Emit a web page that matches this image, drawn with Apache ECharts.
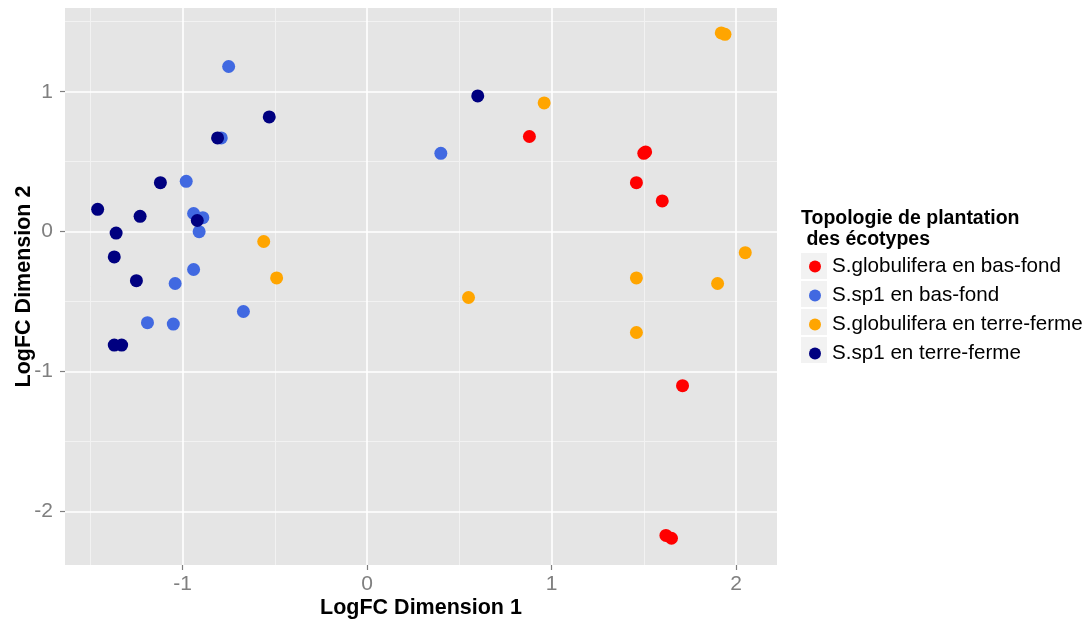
<!DOCTYPE html>
<html>
<head>
<meta charset="utf-8">
<script src="https://cdn.jsdelivr.net/npm/echarts@6/dist/echarts.min.js"></script>
<style>
  html, body { margin: 0; padding: 0; background: #fff; }
  #chart { width: 1092px; height: 621px; }
</style>
</head>
<body>
<div id="chart"></div>
<script>
// axis ranges and ticks
var xRange = [-1.637, 2.222];
var yRange = [-2.381, 1.598];
var xTicks = [-1, 0, 1, 2];
var yTicks = [-2, -1, 0, 1];
var xMinor = [-1.5, -0.5, 0.5, 1.5];
var yMinor = [-1.5, -0.5, 0.5, 1.5];

var seriesNames = ['S.globulifera en bas-fond', 'S.sp1 en bas-fond', 'S.globulifera en terre-ferme', 'S.sp1 en terre-ferme'];
var seriesColors = ['#ff0000', '#4169e1', '#ffa500', '#000080'];

// [LogFC dim 1, LogFC dim 2]
var globBasFond = [[0.88, 0.68], [1.50, 0.56], [1.51, 0.57], [1.46, 0.35], [1.60, 0.22], [1.71, -1.10], [1.62, -2.17], [1.65, -2.19]];
var sp1BasFond = [[-0.75, 1.18], [-0.79, 0.67], [-0.98, 0.36], [-0.94, 0.13], [-0.89, 0.10], [-0.91, 0.00], [-0.94, -0.27], [-1.04, -0.37], [-0.67, -0.57], [-1.19, -0.65], [-1.05, -0.66], [0.40, 0.56]];
var globTerreFerme = [[1.92, 1.42], [1.94, 1.41], [0.96, 0.92], [-0.56, -0.07], [-0.49, -0.33], [2.05, -0.15], [1.46, -0.33], [1.90, -0.37], [0.55, -0.47], [1.46, -0.72]];
var sp1TerreFerme = [[-0.53, 0.82], [-0.81, 0.67], [-1.12, 0.35], [-1.46, 0.16], [-1.23, 0.11], [-0.92, 0.08], [-1.36, -0.01], [-1.37, -0.18], [-1.25, -0.35], [-1.37, -0.81], [-1.33, -0.81], [0.60, 0.97]];

var seriesData = [globBasFond, sp1BasFond, globTerreFerme, sp1TerreFerme];

var FONT = 'Liberation Sans, Arial, sans-serif';
var myChart = echarts.init(document.getElementById('chart'), null, { renderer: 'canvas' });

// grid lines (ggplot style) as markLines
var gridLines = [];
xMinor.forEach(function (v) { gridLines.push({ xAxis: v, lineStyle: { color: '#f2f2f2', width: 1 } }); });
yMinor.forEach(function (v) { gridLines.push({ yAxis: v, lineStyle: { color: '#f2f2f2', width: 1 } }); });
xTicks.forEach(function (v) { gridLines.push({ xAxis: v, lineStyle: { color: '#ffffff', width: 1.6 } }); });
yTicks.forEach(function (v) { gridLines.push({ yAxis: v, lineStyle: { color: '#ffffff', width: 1.6 } }); });

var series = [{
    name: 'grid',
    type: 'scatter',
    data: [],
    silent: true,
    markLine: {
        silent: true,
        z: 1,
        symbol: 'none',
        animation: false,
        label: { show: false },
        lineStyle: { type: 'solid' },
        data: gridLines
    }
}];
for (var i = 0; i < seriesNames.length; i++) {
    series.push({
        name: seriesNames[i],
        type: 'scatter',
        z: 2,
        symbolSize: 13,
        itemStyle: { color: seriesColors[i], opacity: 1 },
        data: seriesData[i]
    });
}

// legend key boxes
var keyBoxes = [];
for (var k = 0; k < seriesNames.length; k++) {
    keyBoxes.push({
        type: 'rect',
        left: 801,
        top: 253 + k * 28,
        shape: { width: 26, height: 26 },
        style: { fill: '#f2f2f2' },
        z: 0
    });
}

var axisLabelStyle = { color: '#7f7f7f', fontSize: 21, fontFamily: FONT };
var axisNameStyle = { color: '#000', fontSize: 21.5, fontWeight: 'bold', fontFamily: FONT };
var tickStyle = { show: true, inside: false, length: 5, lineStyle: { color: '#7f7f7f', width: 1.2 } };

var option = {
    animation: false,
    backgroundColor: '#ffffff',
    title: {
        text: 'Topologie de plantation\n des écotypes',
        left: 801,
        top: 208,
        padding: 0,
        textStyle: { color: '#000', fontSize: 19.5, fontWeight: 'bold', fontFamily: FONT, lineHeight: 21 }
    },
    legend: {
        data: seriesNames,
        orient: 'vertical',
        left: 809,
        top: 256,
        padding: 0,
        itemGap: 8,
        itemWidth: 24,
        itemHeight: 12,
        icon: 'circle',
        selectedMode: false,
        textStyle: { color: '#000', fontSize: 20.6, lineHeight: 20, fontFamily: FONT }
    },
    graphic: keyBoxes,
    grid: {
        left: 65,
        top: 8,
        right: 315,
        bottom: 56,
        show: true,
        containLabel: false,
        outerBoundsMode: 'none',
        backgroundColor: '#e5e5e5',
        borderWidth: 0
    },
    xAxis: {
        type: 'value',
        min: xRange[0],
        max: xRange[1],
        name: 'LogFC Dimension 1',
        nameLocation: 'middle',
        nameGap: 32,
        nameMoveOverlap: false,
        nameTextStyle: axisNameStyle,
        axisLine: { show: false, onZero: false },
        axisTick: Object.assign({ customValues: xTicks }, tickStyle),
        axisLabel: Object.assign({ customValues: xTicks, margin: 9 }, axisLabelStyle),
        splitLine: { show: false }
    },
    yAxis: {
        type: 'value',
        min: yRange[0],
        max: yRange[1],
        name: 'LogFC Dimension 2',
        nameLocation: 'middle',
        nameGap: 30,
        nameMoveOverlap: false,
        nameTextStyle: axisNameStyle,
        axisLine: { show: false, onZero: false },
        axisTick: Object.assign({ customValues: yTicks }, tickStyle),
        axisLabel: Object.assign({ customValues: yTicks, margin: 12 }, axisLabelStyle),
        splitLine: { show: false }
    },
    series: series
};

myChart.setOption(option);
</script>
</body>
</html>
